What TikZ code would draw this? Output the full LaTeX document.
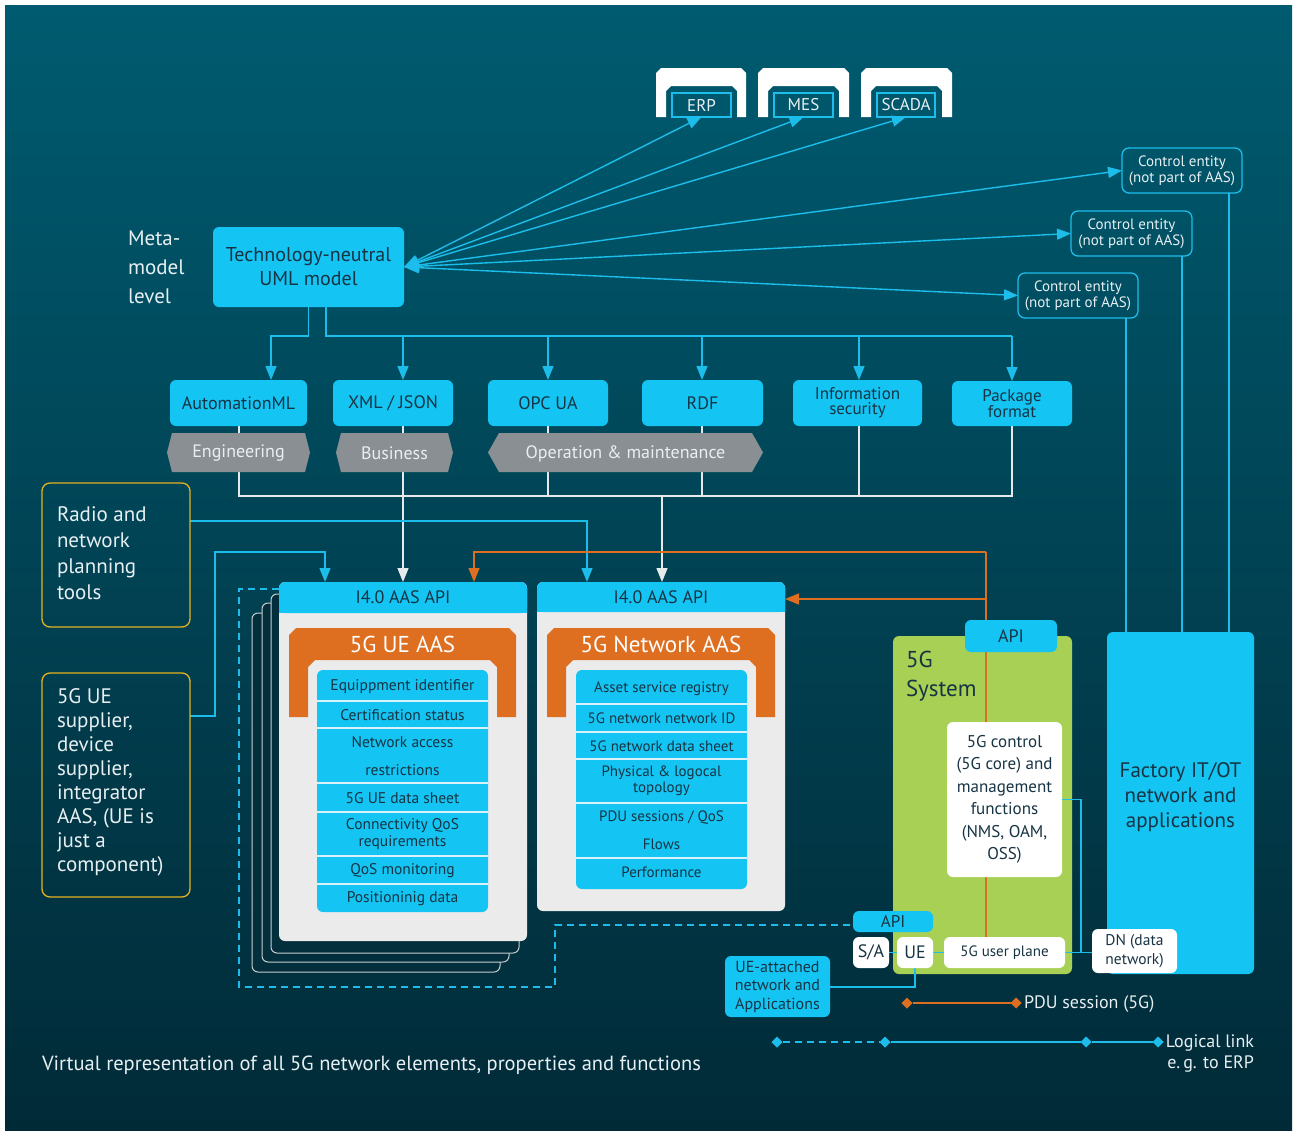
\documentclass[tikz,border=0pt]{standalone}
\usepackage{fontspec}
\setmainfont{PT Sans}
\usetikzlibrary{arrows.meta,shapes.geometric}
\definecolor{bgtop}{HTML}{005B70}
\definecolor{bgbot}{HTML}{012A37}
\definecolor{cyanb}{HTML}{14C4F2}
\definecolor{cyanl}{HTML}{1CBDEA}
\definecolor{darktext}{HTML}{173444}
\definecolor{lighttext}{HTML}{E8EFF2}
\definecolor{orng}{HTML}{DF6F20}
\definecolor{hexg}{HTML}{8A8F93}
\definecolor{panel}{HTML}{EBEBEB}
\definecolor{grn}{HTML}{A8D055}
\definecolor{yel}{HTML}{E5B31F}
\definecolor{wl}{HTML}{E6EAEC}
\definecolor{carddark}{HTML}{032E3C}
\definecolor{cardline}{HTML}{C9CED1}
\definecolor{sepc}{HTML}{D8F1FA}
\newcommand\myfs[2]{\fontsize{#1}{#2}\selectfont}
\pgfdeclarelayer{back}
\pgfdeclarelayer{mid}
\pgfsetlayers{back,mid,main}
\begin{document}
\begin{tikzpicture}[x=1pt,y=-1pt,
  every node/.style={inner sep=0pt, outer sep=0pt},
  cbox/.style={fill=cyanb, rounded corners=6pt, text=darktext, align=center},
  wbox/.style={fill=white, rounded corners=6pt, text=darktext, align=center},
  cebox/.style={draw=cyanl, line width=1.3pt, rounded corners=7pt, text=lighttext, align=center, font=\myfs{15}{16}, minimum height=45pt},
  ybox/.style={draw=yel, line width=1.3pt, rounded corners=8pt},
  ltxt/.style={text=lighttext, align=left},
  hextxt/.style={text=lighttext, font=\myfs{18}{20}},
  rowt/.style={text=darktext, align=center, font=\myfs{15.5}{17}},
  cline/.style={draw=cyanl, line width=1.4pt},
  wlin/.style={draw=wl, line width=1.4pt},
  oline/.style={draw=orng, line width=1.4pt},
  arr/.style={-{Triangle[length=14pt,width=11pt]}},
  fan/.style={{Triangle[length=15pt,width=11pt]}-{Triangle[length=14pt,width=11pt]}},
  sepl/.style={draw=sepc, line width=1.2pt},
  dia/.style={diamond, minimum width=11pt, minimum height=11pt}
]
\useasboundingbox (0,0) rectangle (1298,1135);
\begin{pgfonlayer}{back}
\fill[white] (0,0) rectangle (1298,1135);
\shade[top color=bgtop, bottom color=bgbot] (5,5) rectangle (1292,1130);
\fill[grn, rounded corners=6pt] (893,636) rectangle (1072,974);
\end{pgfonlayer}

% ERP / MES / SCADA icons
\fill[white] (656,117) -- (656,73) -- (661,68) -- (741,68) -- (746,73) -- (746,117) -- (737,117) -- (737,91) -- (732,86) -- (671,86) -- (666,91) -- (666,117) -- cycle;
\fill[white] (758,117) -- (758,73) -- (763,68) -- (844,68) -- (849,73) -- (849,117) -- (839,117) -- (839,91) -- (834,86) -- (773,86) -- (768,91) -- (768,117) -- cycle;
\fill[white] (861,117) -- (861,73) -- (866,68) -- (947,68) -- (952,73) -- (952,117) -- (942,117) -- (942,91) -- (937,86) -- (876,86) -- (871,91) -- (871,117) -- cycle;
\node[draw=cyanl, line width=1.2pt, minimum width=59pt, minimum height=24pt, text=lighttext, font=\myfs{17}{19}] (erp) at (701.5,105) {ERP};
\node[draw=cyanl, line width=1.2pt, minimum width=59pt, minimum height=24pt, text=lighttext, font=\myfs{17}{19}] (mes) at (803.5,105) {MES};
\node[draw=cyanl, line width=1.2pt, minimum width=58pt, minimum height=24pt, text=lighttext, font=\myfs{17}{19}] (scada) at (906,105) {SCADA};

% Control entities
\node[cebox, minimum width=120pt] (ce1) at (1182,170.5) {Control entity\\(not part of AAS)};
\node[cebox, minimum width=121pt] (ce2) at (1131.5,233.5) {Control entity\\(not part of AAS)};
\node[cebox, minimum width=120pt] (ce3) at (1078,295.5) {Control entity\\(not part of AAS)};

% Meta model
\node[ltxt, anchor=west, font=\myfs{21}{29}] (meta) at (128,267) {Meta-\\model\\level};
\node[cbox, minimum width=191pt, minimum height=80pt, font=\myfs{20}{24}] (uml) at (308.5,267) {Technology-neutral\\UML model};

% Second row
\node[cbox, minimum width=137pt, minimum height=46pt, font=\myfs{18}{20}] (automl) at (238.5,403) {AutomationML};
\node[cbox, minimum width=120pt, minimum height=46pt, font=\myfs{18}{20}] (xml) at (393,403) {XML / JSON};
\node[cbox, minimum width=120pt, minimum height=46pt, font=\myfs{18}{20}] (opc) at (548,403) {OPC UA};
\node[cbox, minimum width=121pt, minimum height=46pt, font=\myfs{18}{20}] (rdf) at (702.5,403) {RDF};
\node[cbox, minimum width=129pt, minimum height=46pt, font=\myfs{17}{15}] (infosec) at (857.5,403) {Information\\security};
\node[cbox, minimum width=120pt, minimum height=45pt, font=\myfs{17}{15}] (pkg) at (1012,403.5) {Package\\format};

% hexagons
\fill[hexg] (167,452.5) -- (172,433) -- (305,433) -- (310,452.5) -- (305,472) -- (172,472) -- cycle;
\fill[hexg] (336,452.5) -- (341,433) -- (448,433) -- (453,452.5) -- (448,472) -- (341,472) -- cycle;
\fill[hexg] (488,452.5) -- (499,433) -- (752,433) -- (763,452.5) -- (752,472) -- (499,472) -- cycle;
\node[hextxt] (engt) at (238.5,453.5) {Engineering};
\node[hextxt] (bust) at (394.5,453.5) {Business};
\node[hextxt] (opt) at (625.5,453.5) {Operation \& maintenance};

% left yellow boxes
\node[ybox, minimum width=148pt, minimum height=144pt] (radio) at (116,555) {};
\node[ltxt, anchor=west, font=\myfs{21}{26}] (radiot) at (57,553) {Radio and\\network\\planning\\tools};
\node[ybox, minimum width=148pt, minimum height=224pt] (sup) at (116,785) {};
\node[ltxt, anchor=west, font=\myfs{21}{24}] (supt) at (57,782) {5G UE\\supplier,\\device\\supplier,\\integrator\\AAS, (UE is\\just a\\component)};

% UE AAS stack
\filldraw[fill=carddark, draw=cardline, line width=1pt, rounded corners=6pt] (252,613) rectangle (500,972);
\filldraw[fill=carddark, draw=cardline, line width=1pt, rounded corners=6pt] (262,603) rectangle (509,962);
\filldraw[fill=carddark, draw=cardline, line width=1pt, rounded corners=6pt] (271,594) rectangle (519,953);
\node[fill=panel, rounded corners=6pt, minimum width=248pt, minimum height=359pt] (uebody) at (403,761.5) {};
\fill[cyanb, rounded corners=6pt] (279,582) rectangle (527,613);
\fill[cyanb] (279,600) rectangle (527,613);
\node[text=darktext, font=\myfs{18}{20}, minimum width=248pt, minimum height=31pt] (ueapi) at (403,597.5) {I4.0 AAS API};
\fill[orng] (289,717) -- (289,635) -- (296,628) -- (509,628) -- (516,635) -- (516,717) -- (497,717) -- (497,667) -- (490,660) -- (315,660) -- (308,667) -- (308,717) -- cycle;
\node[text=white, font=\myfs{23}{26}] (ueaast) at (402.5,644) {5G UE AAS};
\node[fill=cyanb, rounded corners=6pt, minimum width=171pt, minimum height=242pt] (uelist) at (402.5,791) {};
\foreach \yy in {701,728,783,812,856,884} \draw[sepl] (317,\yy) -- (488,\yy);
\node[rowt] (ue1) at (402.5,687) {Equippment identifier};
\node[rowt] (ue2) at (402.5,715) {Certification status};
\node[rowt, font=\myfs{15.5}{28}] (ue3) at (402.5,756) {Network access\\restrictions};
\node[rowt] (ue4) at (402.5,798.5) {5G UE data sheet};
\node[rowt, font=\myfs{15.5}{17}] (ue5) at (402.5,834.5) {Connectivity QoS\\requirements};
\node[rowt] (ue6) at (402.5,871) {QoS monitoring};
\node[rowt] (ue7) at (402.5,899) {Positioninig data};

% Network AAS
\node[fill=panel, rounded corners=6pt, minimum width=248pt, minimum height=329pt] (nwbody) at (661,746.5) {};
\fill[cyanb, rounded corners=6pt] (537,582) rectangle (785,612);
\fill[cyanb] (537,598) rectangle (785,612);
\node[text=darktext, font=\myfs{18}{20}, minimum width=248pt, minimum height=30pt] (netapi) at (661,597) {I4.0 AAS API};
\fill[orng] (547,717) -- (547,635) -- (554,628) -- (768,628) -- (775,635) -- (775,717) -- (756,717) -- (756,667) -- (749,660) -- (573,660) -- (566,667) -- (566,717) -- cycle;
\node[text=white, font=\myfs{23}{26}] (nwaast) at (661,644) {5G Network AAS};
\node[fill=cyanb, rounded corners=6pt, minimum width=171pt, minimum height=219pt] (nwlist) at (661.5,779.5) {};
\foreach \yy in {704,732,759,803,858} \draw[sepl] (576,\yy) -- (747,\yy);
\node[rowt, font=\myfs{15}{17}] (nw1) at (661.5,689) {Asset service registry};
\node[rowt, font=\myfs{15}{17}] (nw2) at (661.5,718.5) {5G network network ID};
\node[rowt, font=\myfs{15}{17}] (nw3) at (661.5,746) {5G network data sheet};
\node[rowt, font=\myfs{15}{16}] (nw4) at (661.5,781) {Physical \& logocal\\topology};
\node[rowt, font=\myfs{15}{28}] (nw5) at (661.5,830.5) {PDU sessions / QoS\\Flows};
\node[rowt, font=\myfs{15}{17}] (nw6) at (661.5,872.5) {Performance};

% 5G system
\node[cbox, minimum width=147pt, minimum height=342pt] (factory) at (1180.5,803) {};
\node[text=darktext, align=center, font=\myfs{21}{25}] (factt) at (1180.5,797) {Factory IT/OT\\network and\\applications};
\node[cbox, minimum width=92pt, minimum height=32pt, font=\myfs{18}{20}] (api) at (1011,636) {API};
\node[text=darktext, anchor=west, align=left, font=\myfs{23}{29}] (sys) at (906,676) {5G\\System};
\node[wbox, minimum width=115pt, minimum height=155pt, font=\myfs{17}{22.5}] (ctrl) at (1004.5,799.5) {5G control\\(5G core) and\\management\\functions\\(NMS, OAM,\\OSS)};
\node[wbox, minimum width=121pt, minimum height=31pt, font=\myfs{15}{18}] (up) at (1004.5,952.5) {5G user plane};
\node[wbox, minimum width=85pt, minimum height=44pt, align=left, font=\myfs{15.5}{19}] (dn) at (1134.5,951) {DN (data\\network)};
\node[wbox, minimum width=36pt, minimum height=31pt, font=\myfs{18}{20}] (ue) at (915,952.5) {UE};
\node[wbox, minimum width=36pt, minimum height=31pt, font=\myfs{18}{20}] (sa) at (871,952.5) {S/A};
\node[cbox, minimum width=80pt, minimum height=21pt, font=\myfs{17}{19}] (apilow) at (893,921.5) {API};
\node[cbox, minimum width=105pt, minimum height=61pt, font=\myfs{16}{18.5}] (uea) at (777.5,986.5) {UE-attached\\network and\\Applications};

% legend
\node[dia, fill=orng] (p1) at (907,1003) {};
\node[dia, fill=orng] (p2) at (1016,1003) {};
\node[text=lighttext, anchor=west, font=\myfs{18}{22}] (pdut) at (1024,1004) {PDU session (5G)};
\node[dia, fill=cyanl] (l1) at (777,1042) {};
\node[dia, fill=cyanl] (l2) at (885,1042) {};
\node[dia, fill=cyanl] (l3) at (1086,1042) {};
\node[dia, fill=cyanl] (l4) at (1158,1042) {};
\node[text=lighttext, anchor=east, align=right, font=\myfs{18}{21}] (logt) at (1254,1053.5) {Logical link\\e.\,g. to ERP};
\node[text=lighttext, anchor=west, font=\myfs{20.5}{22}] (virt) at (42,1065) {Virtual representation of all 5G network elements, properties and functions};

% connectors
\begin{pgfonlayer}{mid}
\draw[cline, fan] (uml.east) -- (erp.south);
\draw[cline, fan] (uml.east) -- (mes.south);
\draw[cline, fan] (uml.east) -- (scada.south);
\draw[cline, fan] (uml.east) -- (ce1.west);
\draw[cline, fan] (uml.east) -- (ce2.west);
\draw[cline, fan] (uml.east) -- (ce3.west);
\coordinate (c1) at (1229,0);
\coordinate (c2) at (1182,0);
\coordinate (c3) at (1126,0);
\draw[cline] (ce1.south -| c1) -- (factory.north -| c1);
\draw[cline] (ce2.south -| c2) -- (factory.north -| c2);
\draw[cline] (ce3.south -| c3) -- (factory.north -| c3);
\coordinate (j0) at (308.5,336);
\coordinate (jl) at (271,336);
\coordinate (jr0) at (326,336);
\coordinate (jr) at (1012,336);
\draw[cline, arr] (uml.south) -- (j0) -- (jl) -- (automl.north -| jl);
\draw[cline] (uml.south -| jr0) -- (jr0) -- (jr);
\coordinate (k1) at (403,336);
\coordinate (k2) at (548,336);
\coordinate (k3) at (702,336);
\coordinate (k4) at (859,336);
\coordinate (k5) at (1012,336);
\draw[cline, arr] (k1) -- (xml.north -| k1);
\draw[cline, arr] (k2) -- (opc.north -| k2);
\draw[cline, arr] (k3) -- (rdf.north -| k3);
\draw[cline, arr] (k4) -- (infosec.north -| k4);
\draw[cline, arr] (k5) -- (pkg.north -| k5);
\coordinate (w1) at (239,496);
\coordinate (w6) at (1012,496);
\coordinate (w7) at (662,496);
\draw[wlin] (automl.south -| w1) -- (w1) -- (w6) -- (pkg.south -| w6);
\draw[wlin] (opc.south -| k2) -- (k2 |- w1);
\draw[wlin] (rdf.south -| k3) -- (k3 |- w1);
\draw[wlin] (infosec.south -| k4) -- (k4 |- w1);
\draw[wlin, -{Triangle[length=14pt,width=11pt,fill=wl]}] (xml.south -| k1) -- (ueapi.north -| k1);
\draw[wlin, -{Triangle[length=14pt,width=11pt,fill=wl]}] (w7) -- (netapi.north -| w7);
\coordinate (r1) at (587,521);
\draw[cline, arr] (radio.east |- r1) -- (r1) -- (netapi.north -| r1);
\coordinate (s1) at (215,716);
\coordinate (s2) at (215,552);
\coordinate (s3) at (325,552);
\draw[cline, arr] (sup.east |- s1) -- (s1) -- (s2) -- (s3) -- (ueapi.north -| s3);
\coordinate (o1) at (474,552);
\coordinate (o2) at (986,552);
\coordinate (o3) at (986,599);
\draw[oline, arr] (o2) -- (o1) -- (ueapi.north -| o1);
\draw[oline] (o2) -- (up.north -| o2);
\draw[oline, arr] (o3) -- (netapi.east |- o3);
\coordinate (c5) at (1081,799.5);
\draw[cline] (ctrl.east) -- (c5) -- (c5 |- up.east);
\draw[cline] (up.east) -- (dn.west |- up.east);
\draw[cline] (sa.east) -- (ue.west);
\draw[cline] (ue.east) -- (up.west);
\coordinate (u2) at (915,987);
\draw[cline] (ue.south) -- (u2) -- (uea.east |- u2);
\coordinate (d1) at (239,589);
\coordinate (d2) at (239,987);
\coordinate (d3) at (555,987);
\coordinate (d4) at (555,925);
\draw[cline, dash pattern=on 7pt off 5pt] (uebody.west |- d1) -- (d1) -- (d2) -- (d3) -- (d4) -- (apilow.west |- d4);
\draw[oline] (p1) -- (p2);
\draw[cline, dash pattern=on 7pt off 5pt] (l1) -- (l2);
\draw[cline] (l2) -- (l3) -- (l4);
\end{pgfonlayer}
\end{tikzpicture}
\end{document}
